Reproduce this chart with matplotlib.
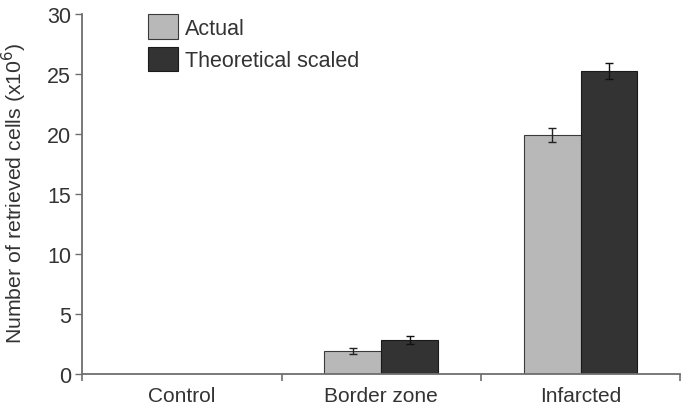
import numpy as np
import matplotlib.pyplot as plt

plt.rcParams['font.family'] = ['Liberation Sans', 'DejaVu Sans']

categories = ['Control', 'Border zone', 'Infarcted']
actual = [np.nan, 1.9, 19.9]
actual_err = [np.nan, 0.25, 0.6]
theoretical = [np.nan, 2.85, 25.25]
theoretical_err = [np.nan, 0.35, 0.7]

txt = '#333333'
axc = '#6e6e6e'

fig = plt.figure(figsize=(6.85, 4.06), dpi=100)
ax = fig.add_axes([0.12, 0.076, 0.873, 0.887])

x = np.arange(len(categories)) + 0.5
w = 0.285
ax.bar(x - w / 2, actual, w, yerr=actual_err, color='#b8b8b8', edgecolor='#3a3a3a',
       linewidth=0.8, capsize=3, error_kw=dict(ecolor='#222222', elinewidth=1, capthick=1),
       label='Actual', zorder=2)
ax.bar(x + w / 2, theoretical, w, yerr=theoretical_err, color='#333333', edgecolor='#1a1a1a',
       linewidth=0.8, capsize=3, error_kw=dict(ecolor='#111111', elinewidth=1, capthick=1),
       label='Theoretical scaled', zorder=2)

ax.set_xlim(0, 3)
ax.set_ylim(0, 30)
ax.set_yticks(np.arange(0, 31, 5))
ax.set_xticks(x)
ax.set_xticklabels(categories)
ax.set_xticks([0, 1, 2, 3], minor=True)
ax.tick_params(axis='x', which='major', length=0, pad=8.5, labelsize=15, labelcolor=txt)
ax.tick_params(axis='x', which='minor', length=5, width=1.2, color=axc, direction='out')
ax.tick_params(axis='y', length=5, width=1, color=axc, labelsize=15.5, labelcolor=txt, pad=3)

for s in ['top', 'right']:
    ax.spines[s].set_visible(False)
for s in ['left', 'bottom']:
    ax.spines[s].set_color(axc)
    ax.spines[s].set_linewidth(1.3)

ax.set_ylabel('Number of retrieved cells (x10$^6$)', fontsize=15.3, color=txt)
ax.yaxis.set_label_coords(-0.089, 0.505)

ax.legend(loc='upper left', bbox_to_anchor=(148 / 685, 1 - 15 / 406),
          bbox_transform=fig.transFigure, frameon=False, fontsize=15.5,
          handlelength=1.39, handleheight=1.39, handletextpad=0.33,
          labelspacing=0.37, borderpad=0, borderaxespad=0, labelcolor=txt)

fig.savefig('out.png', dpi=100)
